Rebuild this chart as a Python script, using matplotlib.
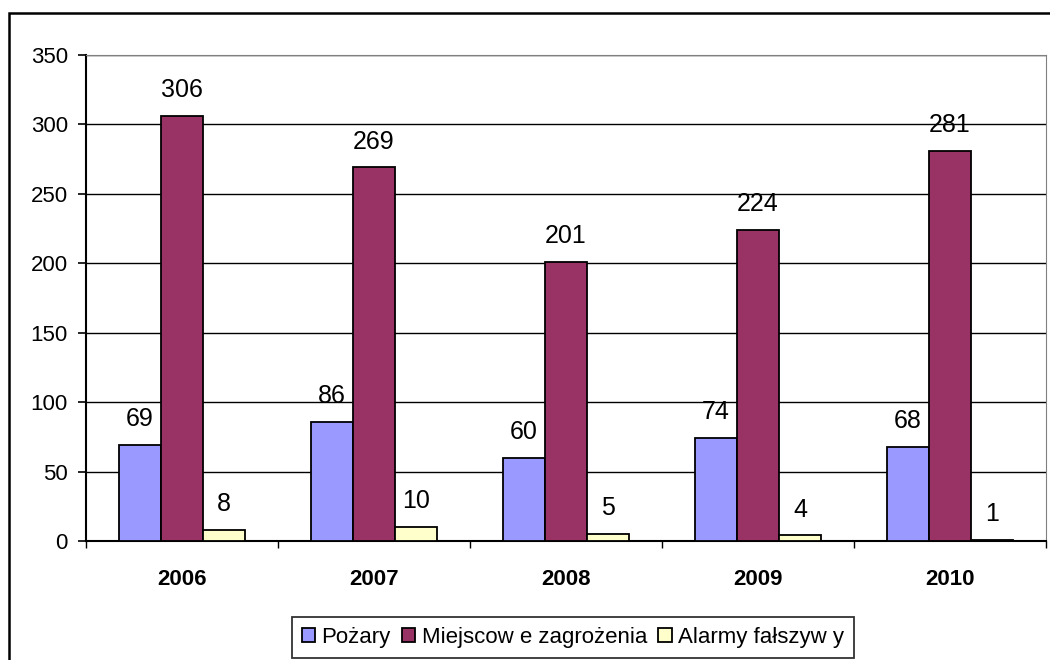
import numpy as np
import matplotlib
matplotlib.use("Agg")
import matplotlib.pyplot as plt
from matplotlib.patches import Rectangle

plt.rcParams['font.family'] = ['Liberation Sans', 'DejaVu Sans']

# Data
years = ["2006", "2007", "2008", "2009", "2010"]
pozary = [69, 86, 60, 74, 68]
miejscowe = [306, 269, 201, 224, 281]
alarmy = [8, 10, 5, 4, 1]

series_names = ["Pożary", "Miejscow e zagrożenia", "Alarmy fałszyw y"]
colors = ["#9999FF", "#993366", "#FFFFCC"]

fig = plt.figure(figsize=(10.5, 6.6), dpi=100)
ax = fig.add_axes([86/1050, 1 - 541/660, 960/1050, 486/660])

# outer chart border (cut off at right/bottom like the original)
fig.patches.append(Rectangle((9/1050, -0.1), 1.2, 1 - 13/660 + 0.1,
                             transform=fig.transFigure, fill=False,
                             edgecolor="black", linewidth=1.8))

x = np.arange(len(years))
w = 0.22
all_series = [pozary, miejscowe, alarmy]
for i, vals in enumerate(all_series):
    pos = x + (i - 1) * w
    bars = ax.bar(pos, vals, width=w, color=colors[i], edgecolor="black",
                  linewidth=1.3, label=series_names[i], zorder=3)
    for xp, v in zip(pos, vals):
        ax.annotate(str(v), (xp, v), xytext=(0, 10), textcoords="offset points",
                    ha="center", va="bottom", fontsize=18)

ax.set_xlim(-0.5, len(years) - 0.5)
ax.set_ylim(0, 350)
ax.set_yticks(np.arange(0, 351, 50))
ax.yaxis.grid(True, color="black", linewidth=1.0, zorder=0)
ax.set_axisbelow(True)

ax.set_xticks(x)
ax.set_xticklabels(years, fontweight="bold", fontsize=16)
ax.set_xticks(np.arange(-0.5, len(years)), minor=True)
ax.tick_params(axis="x", which="major", length=0, pad=20)
ax.tick_params(axis="x", which="minor", length=5, width=1, direction="out")
ax.tick_params(axis="y", length=6, width=1.2, labelsize=16, pad=7)

ax.spines["top"].set_color("#808080")
ax.spines["right"].set_color("#808080")
ax.spines["left"].set_linewidth(1.5)
ax.spines["bottom"].set_linewidth(1.5)

leg = fig.legend(loc="center", bbox_to_anchor=(573/1050, 1 - 637/660), ncol=3,
                 fontsize=16, frameon=True, fancybox=False, edgecolor="black",
                 handlelength=0.6, handleheight=0.6, handletextpad=0.3,
                 columnspacing=0.5, borderpad=0.45, borderaxespad=0)
leg.get_frame().set_linewidth(1.3)

fig.savefig("out.png", dpi=100)
